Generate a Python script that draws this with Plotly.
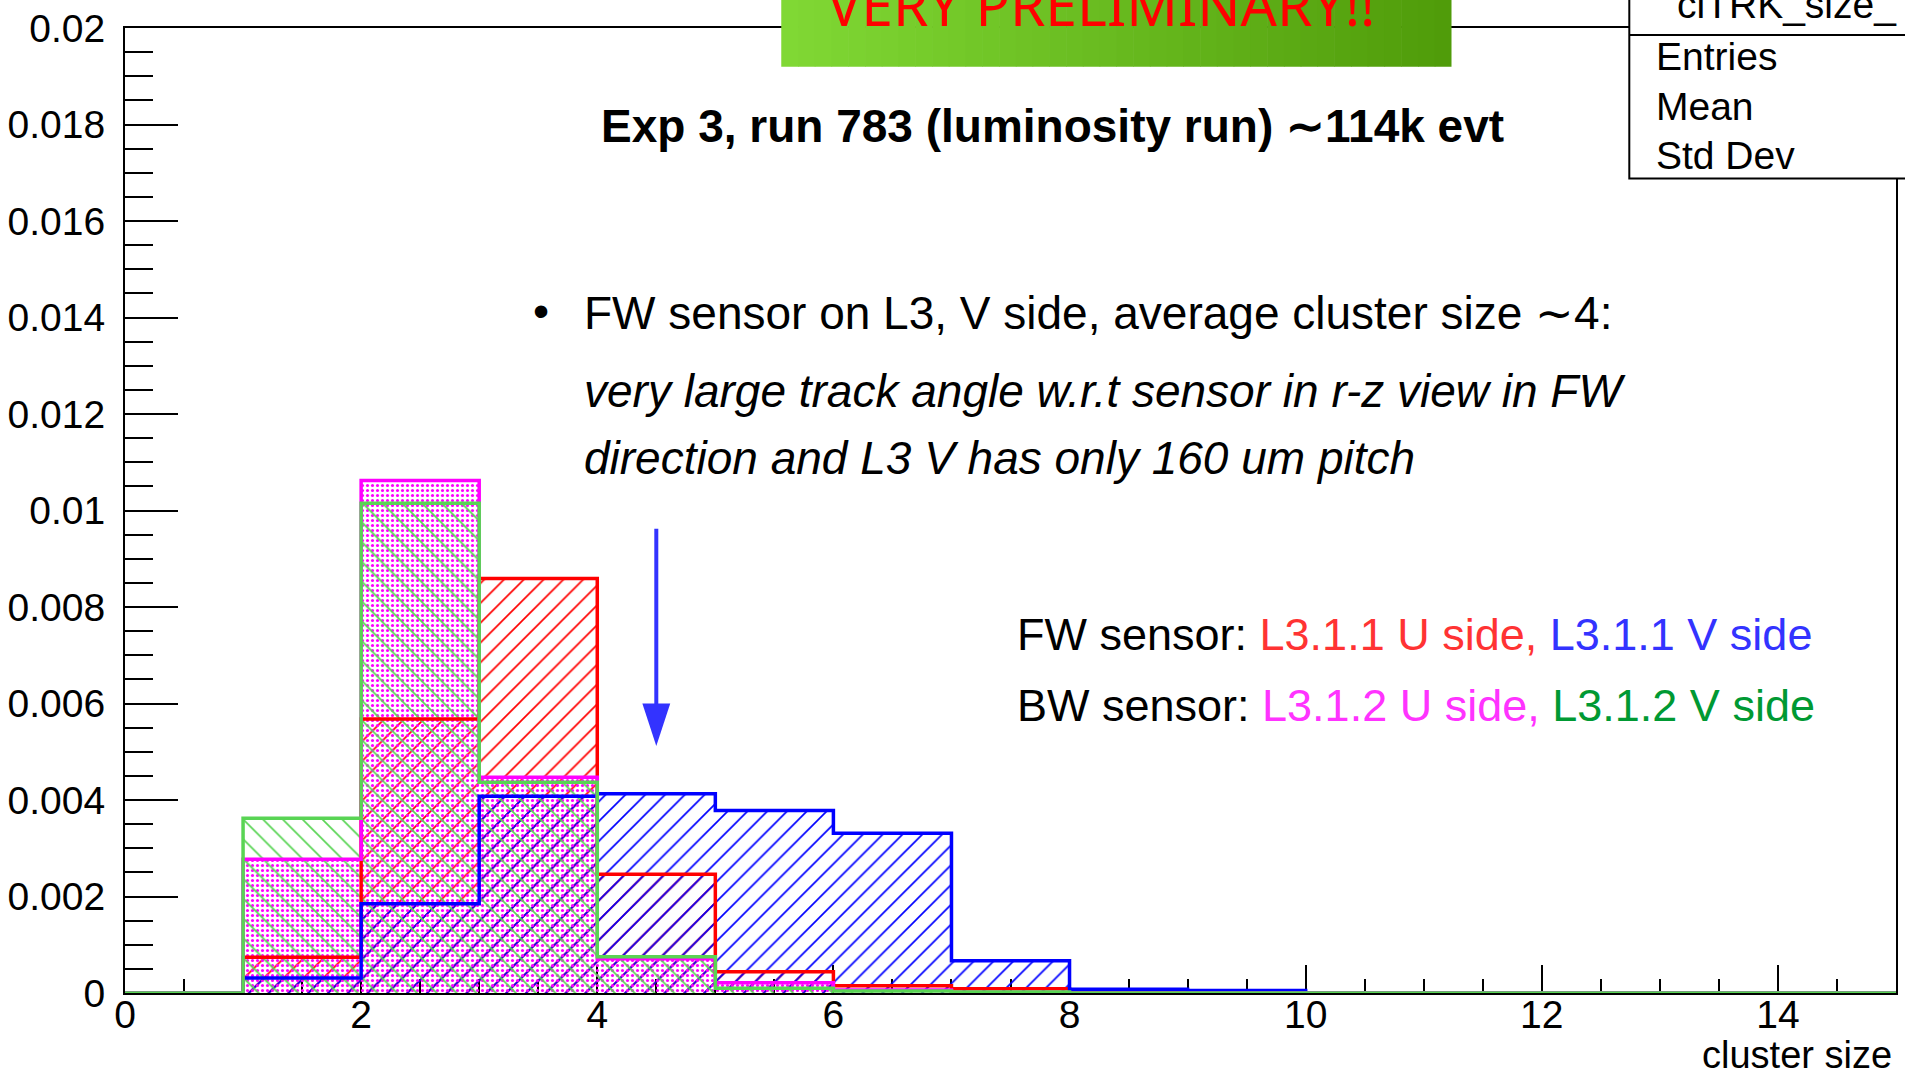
import plotly.graph_objects as go

# ---------------- data ----------------
bin_edges = list(range(0, 16))            # cluster size bins, width 1
fw_u_l311 = [0, 0.00074, 0.00568, 0.00859, 0.00246, 0.00044, 0.00015, 0.00009, 0.00002, 0.00001, 0, 0, 0, 0, 0]
fw_v_l311 = [0, 0.00031, 0.00185, 0.00408, 0.00413, 0.00378, 0.00331, 0.00067, 0.00008, 0.00005, 0, 0, 0, 0, 0]
bw_u_l312 = [0, 0.00277, 0.01062, 0.00447, 0.00071, 0.00021, 0.00006, 0.00001, 0, 0, 0, 0, 0, 0, 0]
bw_v_l312 = [0, 0.00362, 0.01015, 0.00437, 0.00075, 0.00010, 0.00004, 0.00002, 0, 0, 0, 0, 0, 0, 0]

series_names = ["L3.1.1 U side", "L3.1.1 V side", "L3.1.2 U side", "L3.1.2 V side"]
series_values = [fw_u_l311, fw_v_l311, bw_u_l312, bw_v_l312]
series_colors = ["#ff0000", "#0000ff", "#ff00ff", "#59d454"]
series_patterns = ["/", "/", ".", "\\"]

x_range = [0, 15]
y_range = [0, 0.02]
arrow_x = 4.5
arrow_y_top = 0.00962
arrow_y_tip = 0.00512

# ---------------- geometry helpers ----------------
W, H = 1905, 1080
PL, PR, PT, PB = 125, 1898, 24, 993     # plot area in pixels


def px(xp):
    return (xp - PL) / (PR - PL)


def py(yp):
    return (PB - yp) / (PB - PT)


FONT = "Liberation Sans, Arial, Helvetica, sans-serif"

fig = go.Figure()

centers = [e + 0.5 for e in bin_edges[:-1]]
widths = [bin_edges[i + 1] - bin_edges[i] for i in range(len(bin_edges) - 1)]

for name, vals, col, pat in zip(series_names, series_values, series_colors, series_patterns):
    if pat == ".":
        pattern = dict(shape=".", fgcolor=col, bgcolor="rgba(0,0,0,0)", size=5, solidity=0.3, fillmode="replace")
    else:
        pattern = dict(shape=pat, fgcolor=col, bgcolor="rgba(0,0,0,0)", size=14, solidity=0.12, fillmode="replace")
    fig.add_trace(go.Bar(
        x=centers, y=vals, width=widths, name=name,
        marker=dict(color=col, pattern=pattern, line=dict(width=0)),
        showlegend=False, hoverinfo="skip",
    ))

for name, vals, col in zip(series_names, series_values, series_colors):
    fig.add_trace(go.Scatter(
        x=bin_edges, y=vals + [vals[-1]], mode="lines", line_shape="hv",
        line=dict(color=col, width=3.5), name=name, showlegend=False, hoverinfo="skip",
    ))

shapes = []
# arrow (data coords)
shapes.append(dict(type="line", xref="x", yref="y", x0=arrow_x, x1=arrow_x,
                   y0=arrow_y_top, y1=arrow_y_tip + 0.00085, line=dict(color="#3333ff", width=4)))
head_half = 0.118
head_base = arrow_y_tip + 0.00088
shapes.append(dict(type="path", xref="x", yref="y",
                   path=f"M {arrow_x - head_half},{head_base} L {arrow_x + head_half},{head_base} L {arrow_x},{arrow_y_tip} Z",
                   fillcolor="#3333ff", line=dict(width=0)))

# banner gradient (vertical strips)
bx0, bx1, by0, by1 = 782, 1453, -10, 63
c0 = (128, 216, 52)
c1 = (80, 156, 10)
n = 40
for i in range(n):
    t = i / (n - 1)
    c = tuple(int(round(c0[k] + (c1[k] - c0[k]) * t)) for k in range(3))
    xa = bx0 + (bx1 - bx0) * i / n
    xb = bx0 + (bx1 - bx0) * (i + 1) / n + 0.6
    shapes.append(dict(type="rect", xref="paper", yref="paper", layer="above",
                       x0=px(xa), x1=px(min(xb, bx1)), y0=py(by1), y1=py(by0),
                       fillcolor=f"rgb{c}", line=dict(width=0)))

# stats box
shapes.append(dict(type="rect", xref="paper", yref="paper", layer="above",
                   x0=px(1631), x1=px(1915), y0=py(175), y1=py(-10),
                   fillcolor="white", line=dict(color="black", width=2)))
shapes.append(dict(type="line", xref="paper", yref="paper", layer="above",
                   x0=px(1631), x1=px(1915), y0=py(31), y1=py(31),
                   line=dict(color="black", width=2)))

annotations = []


def ann(text, xp, yp, size, xanchor="left", yanchor="middle", color="black", family=FONT):
    annotations.append(dict(text=text, xref="paper", yref="paper", x=px(xp), y=py(yp),
                            xanchor=xanchor, yanchor=yanchor, showarrow=False,
                            font=dict(family=family, size=size, color=color)))


ann("VERY PRELIMINARY!!", 1102, 0, 57, xanchor="center", color="#ff0000",
    family="Noto Sans, DejaVu Sans, sans-serif")
ann("<b>Exp 3, run 783 (luminosity run) ∼114k evt</b>", 1054, 122, 46, xanchor="center")
ann("•", 541, 308, 46, xanchor="center")
ann("FW sensor on L3, V side, average cluster size ∼4:", 583, 310, 46)
ann("<i>very large track angle w.r.t sensor in r-z view in FW</i>", 583, 389, 46)
ann("<i>direction and L3 V has only 160 um pitch</i>", 583, 456, 46)
ann("FW sensor: <span style='color:#ff3333'>L3.1.1 U side,</span> "
    "<span style='color:#3333ff'>L3.1.1 V side</span>", 1016, 633, 45)
ann("BW sensor: <span style='color:#ff33ff'>L3.1.2 U side,</span> "
    "<span style='color:#009933'>L3.1.2 V side</span>", 1016, 704, 45)
ann("clTRK_size_", 1677, 24, 39, yanchor="bottom")
ann("Entries", 1656, 53, 39)
ann("Mean", 1656, 103, 39)
ann("Std Dev", 1656, 152, 39)
ann("cluster size", 1896, 1055, 38, xanchor="right")

axis_common = dict(showline=True, linecolor="black", linewidth=2, mirror=True,
                   showgrid=False, zeroline=False, ticks="inside", tickwidth=2,
                   tickcolor="black", layer="below traces",
                   tickfont=dict(family=FONT, size=39, color="black"))

fig.update_layout(
    width=W, height=H,
    margin=dict(l=PL, r=W - PR, t=PT, b=H - PB, pad=0),
    paper_bgcolor="white", plot_bgcolor="white",
    barmode="overlay", bargap=0,
    showlegend=False,
    xaxis=dict(range=x_range, tick0=0, dtick=2, ticklen=28,
               minor=dict(dtick=0.5, tick0=0, ticks="inside", ticklen=14, tickwidth=2,
                          tickcolor="black", showgrid=False),
               ticklabelstandoff=-14, **axis_common),
    yaxis=dict(range=y_range, tick0=0, dtick=0.002, ticklen=53,
               minor=dict(dtick=0.0005, tick0=0, ticks="inside", ticklen=28, tickwidth=2,
                          tickcolor="black", showgrid=False),
               ticklabelstandoff=10, **axis_common),
    shapes=shapes,
    annotations=annotations,
)

fig.write_html("out.html")
